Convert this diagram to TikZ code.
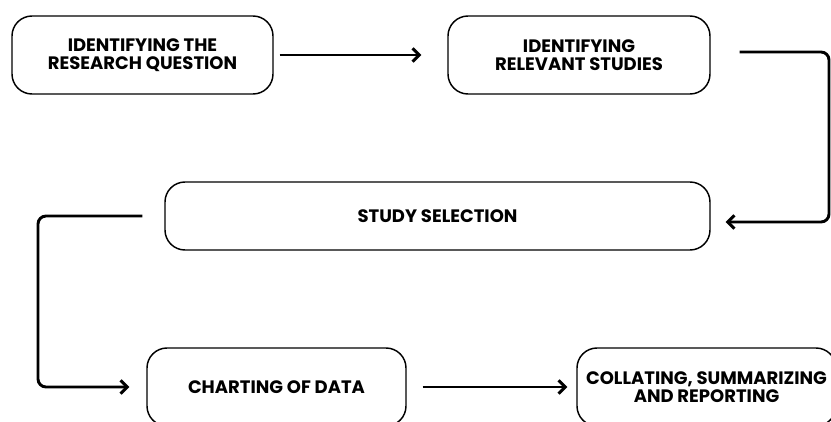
\documentclass[tikz,border=0pt]{standalone}
\usepackage{fontspec}
\newfontfamily\stagefont{Poppins}
\usetikzlibrary{arrows.meta}
\tikzset{every picture/.style={line width=0.75pt}}
\tikzset{
stagebox/.style={draw, rounded corners=15pt, line width=1.1pt, inner sep=0pt, align=center,
  font=\stagefont\bfseries\fontsize{13.5}{13.5}\selectfont},
flowline/.style={line width=2.2pt, rounded corners=6pt,
  -{Straight Barb[length=5pt,width=10pt,line width=2.2pt]}}
}

\begin{document}
\begin{tikzpicture}[x=0.75pt,y=0.75pt,yscale=-1,xscale=1]
\useasboundingbox (0,0) rectangle (831,421);

%Rounded Rect [id:rq] 
\node [stagebox, minimum width=195.75pt, minimum height=58.5pt] (rq) at (142.5,55) {IDENTIFYING THE\\RESEARCH QUESTION};
%Rounded Rect [id:rs] 
\node [stagebox, minimum width=196.5pt, minimum height=58.5pt] (rs) at (579,55) {IDENTIFYING\\RELEVANT STUDIES};
%Rounded Rect [id:ss] 
\node [stagebox, minimum width=408.75pt, minimum height=51pt] (ss) at (437.5,216) {STUDY SELECTION};
%Rounded Rect [id:cd] 
\node [stagebox, minimum width=194.25pt, minimum height=58.5pt] (cd) at (276.5,387) {CHARTING OF DATA};
%Rounded Rect [id:cr] 
\node [stagebox, minimum width=194.25pt, minimum height=58.5pt] (cr) at (706.5,387) {COLLATING, SUMMARIZING\\AND REPORTING};

%Straight Lines [id:rq-rs] 
\draw [flowline] ([xshift=4.5pt]rq.east) -- ([xshift=-19.5pt]rs.west) ;
%Elbow Lines [id:rs-ss] 
\coordinate (rbend) at (829,222);
\draw [flowline] ([xshift=21.75pt,yshift=-2.25pt]rs.east) -| (rbend) -- ([xshift=11.25pt,yshift=4.5pt]ss.east) ;
%Elbow Lines [id:ss-cd] 
\coordinate (lbend) at (38,387);
\draw [flowline] ([xshift=-16.5pt]ss.west) -| (lbend) -- ([xshift=-12.75pt]cd.west) ;
%Straight Lines [id:cd-cr] 
\draw [flowline] ([xshift=12pt]cd.east) -- ([xshift=-6.75pt]cr.west) ;
\end{tikzpicture}
\end{document}
